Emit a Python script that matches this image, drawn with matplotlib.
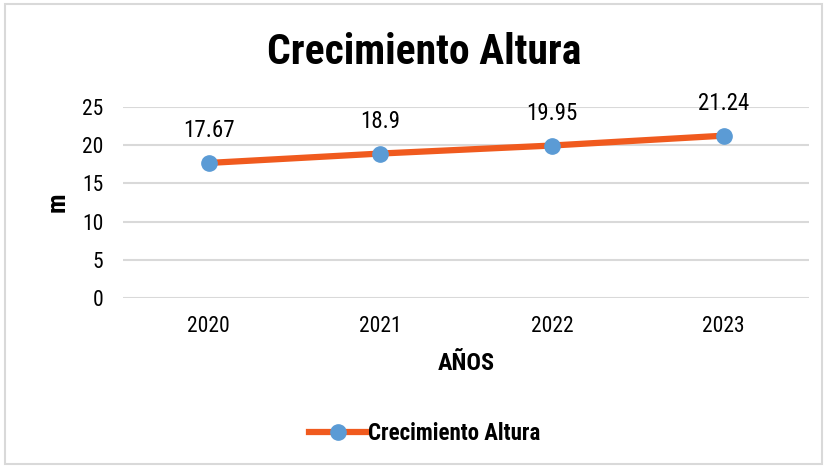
import matplotlib.pyplot as plt
from matplotlib.patches import Rectangle

years = ["2020", "2021", "2022", "2023"]
heights = [17.67, 18.9, 19.95, 21.24]
labels = ["17.67", "18.9", "19.95", "21.24"]
yticks = [0, 5, 10, 15, 20, 25]

plt.rcParams['font.family'] = ['Roboto Condensed', 'DejaVu Sans']

fig = plt.figure(figsize=(8.25, 4.67), dpi=100)
ax = fig.add_axes([0.149, 0.362, 0.832, 0.409])

x = range(len(years))
ax.plot(x, heights, color="#F05A1E", lw=4.5, marker="o", ms=11,
        mfc="#5B9BD5", mec="#5B9BD5", label="Crecimiento Altura", zorder=3)
for i, v in enumerate(heights):
    ax.annotate(labels[i], (i, v), xytext=(0, 15), textcoords="offset points",
                ha="center", va="bottom", fontsize=16.5)

ax.set_xlim(-0.5, 3.5)
ax.set_ylim(0, 25)
ax.set_xticks(list(x))
ax.set_xticklabels(years, fontsize=15.5)
ax.set_yticks(yticks)
ax.set_yticklabels([str(t) for t in yticks], fontsize=15.5)
ax.tick_params(length=0, axis="x", pad=13)
ax.tick_params(length=0, axis="y", pad=14)
ax.grid(axis="y", color="#D9D9D9", lw=1.5)
ax.set_axisbelow(True)
for s in ax.spines.values():
    s.set_visible(False)

ax.set_ylabel("m", fontsize=19, fontweight="bold", labelpad=9)
ax.set_xlabel("AÑOS", fontsize=17.5, fontweight="bold", labelpad=11)

fig.text(0.514, 0.888, "Crecimiento Altura", ha="center", va="center",
         fontsize=30, fontweight="bold")

leg = fig.legend(loc="center", bbox_to_anchor=(0.515, 0.072), frameon=False,
                 prop={"size": 16.5, "weight": "bold"}, handlelength=2.5,
                 handletextpad=0.1)

fig.patches.append(Rectangle((0.006, 0.006), 0.99, 0.985, transform=fig.transFigure,
                             fill=False, ec="#D9D9D9", lw=1.5))

fig.savefig("out.png", dpi=100)
